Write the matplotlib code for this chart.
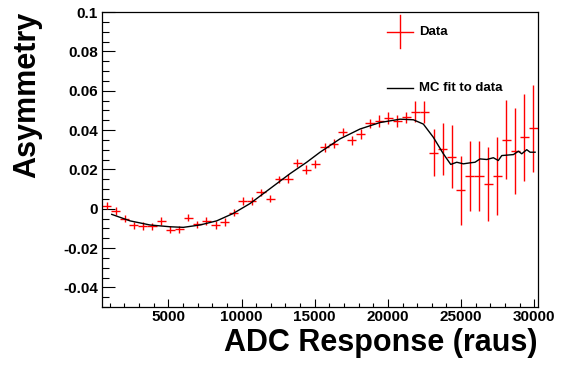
import matplotlib
matplotlib.use('Agg')
import matplotlib.pyplot as plt
import numpy as np
from matplotlib.ticker import MultipleLocator, FuncFormatter

plt.rcParams['font.family'] = ['Liberation Sans', 'DejaVu Sans']
plt.rcParams['font.weight'] = 'bold'
plt.rcParams['axes.unicode_minus'] = False

# histogram range (48 bins)
x_lo, x_hi = 470, 30250
n_bins = 48

# data asymmetry per bin and its error
data_y = [0.0016, -0.0013, -0.0050, -0.0085, -0.0088, -0.0090, -0.0063, -0.0107,
          -0.0105, -0.0045, -0.0080, -0.0062, -0.0082, -0.0068, -0.0020, 0.0039,
          0.0039, 0.0083, 0.0051, 0.0149, 0.0152, 0.0233, 0.0198, 0.0228,
          0.0312, 0.0330, 0.0390, 0.0348, 0.0380, 0.0434, 0.0445, 0.0461,
          0.0445, 0.0464, 0.0494, 0.0494, 0.0285, 0.0304, 0.0265, 0.0093,
          0.0164, 0.0166, 0.0127, 0.0166, 0.0351, 0.0295, 0.0363, 0.0408]
data_err = [0.0019] * 20 + [0.0022] * 8 + [0.0024] * 2 + [0.0029] * 4 + \
           [0.0052, 0.0056, 0.0121, 0.0133, 0.0159, 0.0174, 0.0178, 0.0180,
            0.0189, 0.0196, 0.0202, 0.0219, 0.0220, 0.0221]

# MC fit curve
mc_x = [1134, 2384, 3750, 5116, 6025, 7165, 8305, 9440, 10580, 11950, 13313,
        14450, 15362, 16728, 18094, 19460, 20826, 21740, 22420, 23100, 23785,
        24290, 24700, 25150, 25610, 25950, 26290, 26750, 27200, 27540, 27775,
        28570, 28910, 29140, 29480, 29710, 30050]
mc_y = [-0.0029, -0.0062, -0.0083, -0.0092, -0.0095, -0.0083, -0.0062, -0.0024,
        0.0026, 0.0102, 0.0178, 0.0236, 0.0287, 0.0355, 0.0405, 0.0438, 0.0455,
        0.0452, 0.0430, 0.0363, 0.0279, 0.0225, 0.0236, 0.0228, 0.0233, 0.0236,
        0.0253, 0.0250, 0.0259, 0.0245, 0.0270, 0.0275, 0.0292, 0.0279, 0.0300,
        0.0287, 0.0287]

edges = np.linspace(x_lo, x_hi, n_bins + 1)
centers = 0.5 * (edges[:-1] + edges[1:])
half_w = 0.5 * (edges[1] - edges[0])

fig = plt.figure(figsize=(5.63, 3.76), dpi=100)
ax = fig.add_axes([102 / 563, 69 / 376, 436 / 563, 295 / 376])

ax.errorbar(centers, data_y, xerr=half_w, yerr=data_err, fmt='none',
            ecolor='red', elinewidth=1.0, capsize=0)
ax.plot(mc_x, mc_y, color='black', lw=1.0)

ax.set_xlim(x_lo, x_hi)
ax.set_ylim(-0.05, 0.1)

ax.xaxis.set_major_locator(MultipleLocator(5000))
ax.xaxis.set_minor_locator(MultipleLocator(1000))
ax.yaxis.set_major_locator(MultipleLocator(0.02))
ax.yaxis.set_minor_locator(MultipleLocator(0.005))
ax.yaxis.set_major_formatter(FuncFormatter(lambda v, p: '%g' % round(v, 4)))
ax.xaxis.set_major_formatter(FuncFormatter(lambda v, p: '%d' % v))

ax.tick_params(axis='both', which='both', direction='in', top=False, right=False,
               labelsize=11, width=0.8)
ax.tick_params(axis='y', which='major', length=9, pad=3)
ax.tick_params(axis='y', which='minor', length=5)
ax.tick_params(axis='x', which='major', length=6, pad=2)
ax.tick_params(axis='x', which='minor', length=3)
for lab in ax.get_xticklabels() + ax.get_yticklabels():
    lab.set_fontweight('bold')
for sp in ax.spines.values():
    sp.set_linewidth(0.9)

# legend drawn by hand
ax.plot([0.6835 - 0.0305, 0.6835 + 0.0305], [0.9332, 0.9332], color='red', lw=1.0,
        transform=ax.transAxes)
ax.plot([0.6835, 0.6835], [0.9332 - 0.056, 0.9332 + 0.056], color='red', lw=1.0,
        transform=ax.transAxes)
ax.text(0.7275, 0.9332, 'Data', transform=ax.transAxes, fontsize=9.5,
        fontweight='bold', va='center', ha='left')
ax.plot([0.653, 0.714], [0.7434, 0.7434], color='black', lw=1.0, transform=ax.transAxes)
ax.text(0.7275, 0.7434, 'MC fit to data', transform=ax.transAxes, fontsize=9.5,
        fontweight='bold', va='center', ha='left')

fig.text(27 / 563, 1 - 12 / 376, 'Asymmetry', rotation=90, fontsize=22,
         fontweight='bold', ha='center', va='top')
fig.text(537 / 563, 1 - 343 / 376, 'ADC Response (raus)', fontsize=22,
         fontweight='bold', ha='right', va='center')

fig.savefig('out.png', dpi=100)
